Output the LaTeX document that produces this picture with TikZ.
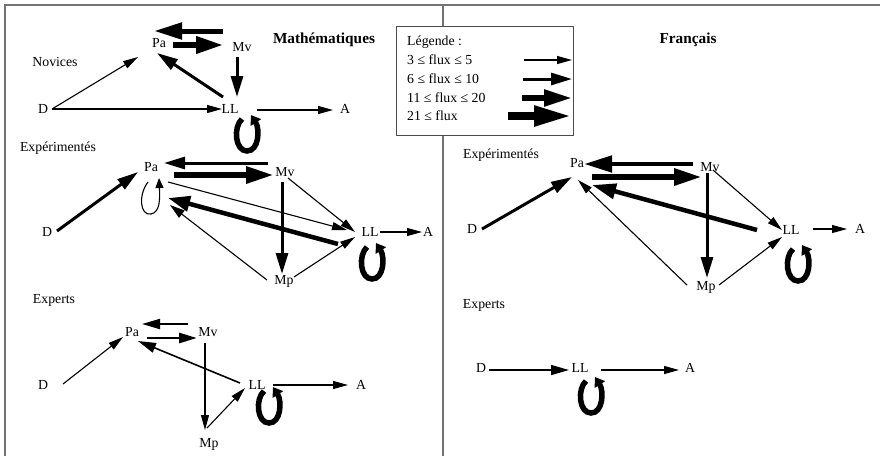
\documentclass[tikz,border=0pt]{standalone}
\usepackage{fontspec}
\setmainfont{Liberation Serif}
\usetikzlibrary{arrows.meta}
\begin{document}
\begin{tikzpicture}[x=1pt,y=-1pt,
  lbl/.style={inner sep=0pt, font=\fontsize{13.8pt}{16pt}\selectfont},
  ttl/.style={inner sep=0pt, font=\fontsize{15.3pt}{18pt}\selectfont\bfseries},
  frame/.style={draw=black!55, line width=1.5pt},
  a1/.style={line width=1.1pt, -{Triangle[length=15pt,width=8pt]}},
  a15/.style={line width=2pt, -{Triangle[length=18pt,width=10pt]}},
  a2/.style={line width=3pt, -{Triangle[length=21pt,width=12pt]}},
  a3/.style={line width=5.5pt, -{Triangle[length=28pt,width=16pt]}},
  a4/.style={line width=8pt, -{Triangle[length=38pt,width=19pt]}},
  bigloop/.pic={\draw[line width=5.5pt, -{Triangle[length=9pt,width=12pt]}]
     (-5,-14) .. controls (-14,-6) and (-12,18) .. (0,18)
     .. controls (12,18) and (13,-4) .. (4,-18);},
  smallloop/.pic={\draw[line width=1.1pt, -{Triangle[length=10pt,width=8pt]}]
     (-3,15) .. controls (-13,28) and (-11,49) .. (0,47)
     .. controls (9,45) and (9,33) .. (8,11);}
]
\useasboundingbox (0,0) rectangle (880,456);
\fill[white] (0,0) rectangle (880,456);
% frame
\draw[frame] (5,456) -- (5,5) -- (880,5);
\draw[frame] (443,5) -- (443,456);

% titles
\node[ttl] (tM) at (324,40) {Mathématiques};
\node[ttl] (tF) at (688,40) {Français};

% legend
\node[draw=black!70, line width=1pt, fill=white, minimum width=177pt, minimum height=109pt, inner sep=0pt] (leg) at (484.5,80.5) {};
\node[lbl, anchor=west] (l0) at (407,42) {Légende :};
\node[lbl, anchor=west] (l1) at (407,60) {3 ≤ flux ≤ 5};
\node[lbl, anchor=west] (l2) at (407,79) {6 ≤ flux ≤ 10};
\node[lbl, anchor=west] (l3) at (407,98) {11 ≤ flux ≤ 20};
\node[lbl, anchor=west] (l4) at (407,116) {21 ≤ flux};
\coordinate (s1) at (524,60); \coordinate (e1) at (572,60);
\coordinate (s2) at (523,79); \coordinate (e2) at (572,79);
\coordinate (s3) at (522,98); \coordinate (e3) at (572,98);
\coordinate (s4) at (508,116); \coordinate (e4) at (572,116);
\draw[a1] (s1) -- (e1);
\draw[a2] (s2) -- (e2);
\draw[a3] (s3) -- (e3);
\draw[a4] (s4) -- (e4);

% ===== Mathématiques : Novices =====
\node[lbl] (nT) at (55,62) {Novices};
\node[lbl] (nPa) at (159,43) {Pa};
\node[lbl] (nMv) at (242,47) {Mv};
\node[lbl] (nD) at (43,109) {D};
\node[lbl] (nLL) at (230,109) {LL};
\node[lbl] (nA) at (345,109) {A};
\draw[a3, line width=5pt] ([shift={(-19,-16)}]nMv.center) -- ([shift={(-5,-12)}]nPa.center);
\draw[a3, line width=6.5pt] ([shift={(14,2)}]nPa.center) -- ([shift={(-18,-2)}]nMv.center);
\draw[a2] ([shift={(-5,10)}]nMv.center) -- ([shift={(7,-12)}]nLL.center);
\draw[a2] ([shift={(-7,-12)}]nLL.center) -- ([shift={(-2,10)}]nPa.center);
\draw[a1] ([shift={(9,0)}]nD.center) -- ([shift={(-21,14)}]nPa.center);
\draw[a1] ([shift={(9,0)}]nD.center) -- ([shift={(-8,0)}]nLL.center);
\draw[a1] ([shift={(27,1)}]nLL.center) -- ([shift={(-12,1)}]nA.center);
\pic at ([shift={(17,24)}]nLL.center) {bigloop};

% ===== Mathématiques : Expérimentés =====
\node[lbl] (eT) at (58,148) {Expérimentés};
\node[lbl] (ePa) at (151,167) {Pa};
\node[lbl] (eMv) at (285,172) {Mv};
\node[lbl] (eD) at (47,232) {D};
\node[lbl] (eLL) at (370,232) {LL};
\node[lbl] (eA) at (428,232) {A};
\node[lbl] (eMp) at (284,281) {Mp};
\draw[a2] ([shift={(-17,-9)}]eMv.center) -- ([shift={(13,-4)}]ePa.center);
\draw[a3, line width=6pt] ([shift={(23,8)}]ePa.center) -- ([shift={(-11,3)}]eMv.center);
\draw[a2] ([shift={(10,-1)}]eD.center) -- ([shift={(-13,5)}]ePa.center);
\draw[a1] ([shift={(17,15)}]ePa.center) -- ([shift={(-23,-2)}]eLL.center);
\draw[a3, line width=4.5pt, -{Triangle[length=22pt,width=15pt]}] ([shift={(-32,12)}]eLL.center) -- ([shift={(17,31)}]ePa.center);
\draw[a1, {Triangle[length=15pt,width=9pt]}-] ([shift={(19,38)}]ePa.center) -- ([shift={(-17,-1)}]eMp.center);
\draw[a1] ([shift={(3,6)}]eMv.center) -- ([shift={(-15,0)}]eLL.center);
\draw[a1] ([shift={(10,-4)}]eMp.center) -- ([shift={(-15,5)}]eLL.center);
\draw[a2] ([shift={(-3,10)}]eMv.center) -- ([shift={(-2,-7)}]eMp.center);
\draw[a1] ([shift={(10,0)}]eLL.center) -- ([shift={(-6,0)}]eA.center);
\pic at (ePa.center) {smallloop};
\pic at ([shift={(2,29)}]eLL.center) {bigloop};

% ===== Mathématiques : Experts =====
\node[lbl] (xT) at (54,300) {Experts};
\node[lbl] (xPa) at (132,332) {Pa};
\node[lbl] (xMv) at (208,332) {Mv};
\node[lbl] (xD) at (43,385) {D};
\node[lbl] (xLL) at (257,385) {LL};
\node[lbl] (xA) at (361,385) {A};
\node[lbl] (xMp) at (209,444) {Mp};
\draw[a15] ([shift={(-20,-8)}]xMv.center) -- ([shift={(10,-8)}]xPa.center);
\draw[a15, line width=2.8pt] ([shift={(15,6)}]xPa.center) -- ([shift={(-11,6)}]xMv.center);
\draw[a1] ([shift={(20,-1)}]xD.center) -- ([shift={(-9,5)}]xPa.center);
\draw[a15, line width=1.6pt] ([shift={(-17,-2)}]xLL.center) -- ([shift={(6,9)}]xPa.center);
\draw[a1] ([shift={(-3,11)}]xMv.center) -- ([shift={(-4,-14)}]xMp.center);
\draw[a1] ([shift={(-2,-16)}]xMp.center) -- ([shift={(-12,3)}]xLL.center);
\draw[a1] ([shift={(16,0)}]xLL.center) -- ([shift={(-13,0)}]xA.center);
\pic at ([shift={(12,20)}]xLL.center) {bigloop};

% ===== Français : Expérimentés =====
\node[lbl] (fT) at (501,155) {Expérimentés};
\node[lbl] (fPa) at (577,163) {Pa};
\node[lbl] (fMv) at (710,167) {Mv};
\node[lbl] (fD) at (472,229) {D};
\node[lbl] (fLL) at (791,230) {LL};
\node[lbl] (fA) at (860,229) {A};
\node[lbl] (fMp) at (706,287) {Mp};
\draw[a3, line width=4.8pt] ([shift={(-17,-3)}]fMv.center) -- ([shift={(7,1)}]fPa.center);
\draw[a3, line width=6pt] ([shift={(15,14)}]fPa.center) -- ([shift={(-8,10)}]fMv.center);
\draw[a2] ([shift={(10,0)}]fD.center) -- ([shift={(-5,14)}]fPa.center);
\draw[a3, line width=4.5pt, -{Triangle[length=24pt,width=15pt]}] ([shift={(-34,0)}]fLL.center) -- ([shift={(15,22)}]fPa.center);
\draw[a1] ([shift={(-19,-2)}]fMp.center) -- ([shift={(1,17)}]fPa.center);
\draw[a1] ([shift={(3,3)}]fMv.center) -- ([shift={(-9,0)}]fLL.center);
\draw[a1] ([shift={(13,-2)}]fMp.center) -- ([shift={(-9,7)}]fLL.center);
\draw[a2] ([shift={(-3,6)}]fMv.center) -- ([shift={(1,-9)}]fMp.center);
\draw[a1] ([shift={(22,-1)}]fLL.center) -- ([shift={(-13,0)}]fA.center);
\pic at ([shift={(7,33)}]fLL.center) {bigloop};

% ===== Français : Experts =====
\node[lbl] (gT) at (484,305) {Experts};
\node[lbl] (gD) at (481,368) {D};
\node[lbl] (gLL) at (580,368) {LL};
\node[lbl] (gA) at (690,368) {A};
\draw[a15, line width=1.6pt] ([shift={(8,2)}]gD.center) -- ([shift={(-11,2)}]gLL.center);
\draw[a1] ([shift={(21,2)}]gLL.center) -- ([shift={(-11,2)}]gA.center);
\pic at ([shift={(11,27)}]gLL.center) {bigloop};
\end{tikzpicture}
\end{document}
